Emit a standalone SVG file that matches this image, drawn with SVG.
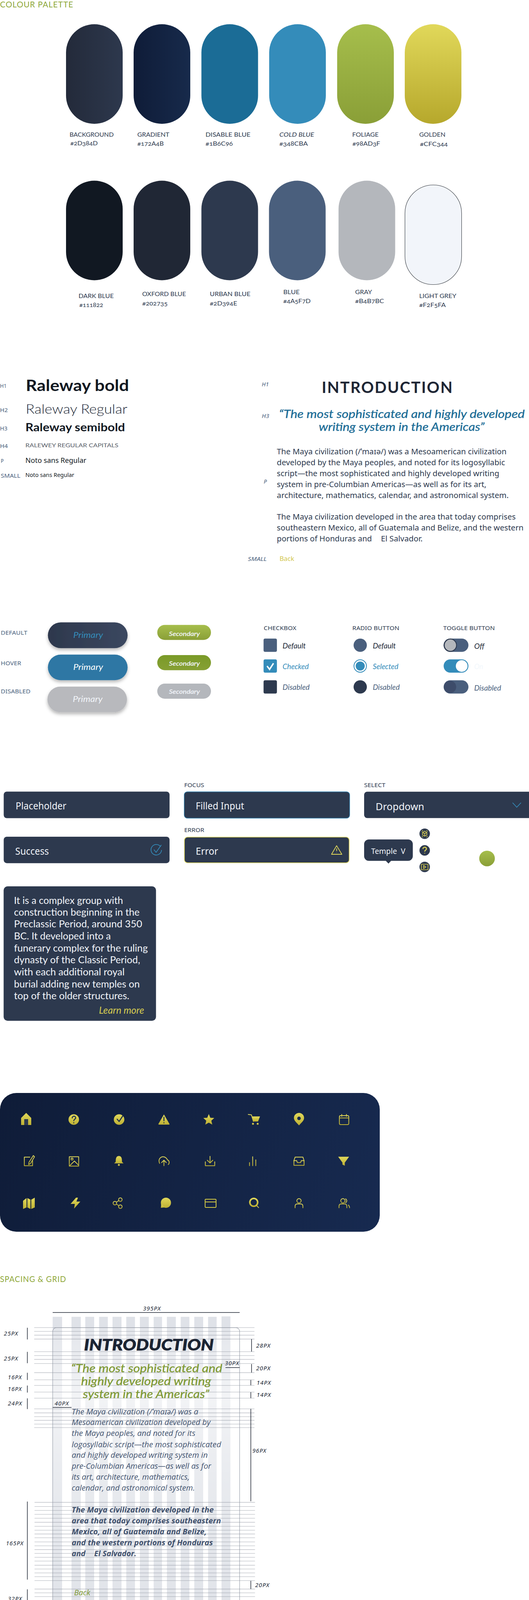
<svg xmlns="http://www.w3.org/2000/svg" width="1354" height="4146" viewBox="0 0 1354 4146">
<style>
text{font-family:"Lato","Liberation Sans",sans-serif}
.noto,.noto text{font-family:"Noto Sans","Open Sans",sans-serif}
.os,.os text{font-family:"Open Sans","Noto Sans",sans-serif}
.head{font-size:20.5px;font-weight:400;fill:#8fa83a;letter-spacing:1px}
.lab{font-size:15px;fill:#2d394e;font-variant-numeric:oldstyle-nums}
.tag{font-size:14px;fill:#4a5f7d;font-family:"Noto Sans",sans-serif}
.tagi{font-size:14px;fill:#4a5f7d;font-style:italic;font-family:"Noto Sans",sans-serif}
.p{font-size:19.5px;fill:#2d394e}
.b1{font-size:21px;font-style:italic}
.b2{font-size:16px;font-style:italic;fill:#f2f5fa;stroke:#f2f5fa;stroke-width:.35}
.opt{font-size:20px;font-style:italic}
.sub{font-size:14.5px;fill:#2d394e;font-family:"Noto Sans",sans-serif}
.inp{fill:#2d394e}
.val{font-size:25px;fill:#f2f5fa}
.card{font-size:25px;fill:#f2f5fa}
.ig{fill:url(#gi)}
.is{fill:none;stroke:url(#gi);stroke-width:2;stroke-linecap:round;stroke-linejoin:round}
.dk{fill:#172a4b}
.dks{fill:none;stroke:#172a4b;stroke-width:2.5;stroke-linecap:round;stroke-linejoin:round}
.dim{font-size:15px;fill:#202735;font-style:italic;font-family:"Noto Sans",sans-serif;letter-spacing:1px}
.dl{fill:none;stroke:#202735;stroke-width:1.5}
.gp{font-size:20px;font-style:italic;fill:#435470}
.gpb{font-size:20px;font-style:italic;font-weight:700;fill:#3f506c}
.gq{font-size:28px;font-style:italic;fill:#7f9a35;stroke:#7f9a35;stroke-width:.4}
.yic{fill:none;stroke:#d6cc50;stroke-width:1.6;stroke-linejoin:round;stroke-linecap:round}
</style>
<defs>
<linearGradient id="g1"><stop offset="0" stop-color="#232a3a"/><stop offset="1" stop-color="#2d384d"/></linearGradient>
<linearGradient id="g2"><stop offset="0" stop-color="#0f1c38"/><stop offset="1" stop-color="#172a4b"/></linearGradient>
<linearGradient id="g5" x2="0" y2="1"><stop offset="0" stop-color="#a6be4c"/><stop offset="1" stop-color="#8a9f37"/></linearGradient>
<linearGradient id="g6" x2="0" y2="1"><stop offset="0" stop-color="#e1d85a"/><stop offset="1" stop-color="#b6a82c"/></linearGradient>
<linearGradient id="gb"><stop offset="0" stop-color="#2d384d"/><stop offset="1" stop-color="#3b475f"/></linearGradient>
<linearGradient id="gh" x2="0" y2="1"><stop offset="0" stop-color="#7a9a28"/><stop offset="1" stop-color="#86a034"/></linearGradient>
<linearGradient id="gi" x2="0" y2="1"><stop offset="0" stop-color="#e1d85a"/><stop offset="1" stop-color="#bdb034"/></linearGradient>
<linearGradient id="gp" gradientUnits="userSpaceOnUse" x1="0" y1="2798" x2="972" y2="3153"><stop offset="0" stop-color="#0f1c38"/><stop offset="1" stop-color="#172a50"/></linearGradient>
<linearGradient id="gc" x2="0" y2="1"><stop offset="0" stop-color="#fff" stop-opacity=".15"/><stop offset=".25" stop-color="#fff" stop-opacity=".6"/><stop offset=".55" stop-color="#fff" stop-opacity=".3"/><stop offset="1" stop-color="#fff" stop-opacity=".05"/></linearGradient>
<filter id="sh" x="-20%" y="-30%" width="140%" height="170%"><feDropShadow dx="0" dy="5" stdDeviation="4" flood-color="#000" flood-opacity=".28"/></filter>
</defs>
<rect width="1354" height="4146" fill="#fff"/>

<g id="colour-palette">
<text class="head" x="0" y="18.5" textLength="188" lengthAdjust="spacingAndGlyphs">COLOUR PALETTE</text>
<g id="swatch-background"><rect x="169" y="62" width="145" height="255" rx="72.5" fill="url(#g1)"/><text class="lab" x="178" y="350" textLength="113" lengthAdjust="spacingAndGlyphs">BACKGROUND</text><text class="lab" x="180" y="372" textLength="70" lengthAdjust="spacingAndGlyphs">#2D384D</text></g>
<g id="swatch-gradient"><rect x="342" y="62" width="145" height="255" rx="72.5" fill="url(#g2)"/><text class="lab" x="351.5" y="350" textLength="82" lengthAdjust="spacingAndGlyphs">GRADIENT</text><text class="lab" x="351.5" y="373" textLength="67.5" lengthAdjust="spacingAndGlyphs">#172A4B</text></g>
<g id="swatch-disable-blue"><rect x="515.5" y="62" width="145" height="255" rx="72.5" fill="#1b6c96"/><text class="lab" x="526" y="350" textLength="115" lengthAdjust="spacingAndGlyphs">DISABLE BLUE</text><text class="lab" x="526" y="373" textLength="70" lengthAdjust="spacingAndGlyphs">#1B6C96</text></g>
<g id="swatch-cold-blue"><rect x="689" y="62" width="145" height="255" rx="72.5" fill="#348cba"/><text class="lab" font-style="italic" x="715" y="350" textLength="89" lengthAdjust="spacingAndGlyphs">COLD BLUE</text><text class="lab" x="715" y="373" textLength="73" lengthAdjust="spacingAndGlyphs">#348CBA</text></g>
<g id="swatch-foliage"><rect x="863" y="62" width="145" height="255" rx="72.5" fill="url(#g5)"/><text class="lab" x="901.5" y="350" textLength="67.5" lengthAdjust="spacingAndGlyphs">FOLIAGE</text><text class="lab" x="902" y="373" textLength="71" lengthAdjust="spacingAndGlyphs">#98AD3F</text></g>
<g id="swatch-golden"><rect x="1036" y="62" width="145" height="255" rx="72.5" fill="url(#g6)"/><text class="lab" x="1073" y="350" textLength="67" lengthAdjust="spacingAndGlyphs">GOLDEN</text><text class="lab" x="1075" y="374" textLength="71" lengthAdjust="spacingAndGlyphs">#CFC344</text></g>
<g id="swatch-dark-blue"><rect x="169" y="462.5" width="145" height="255" rx="72.5" fill="#111822"/><text class="lab" x="201" y="762.5" textLength="90" lengthAdjust="spacingAndGlyphs">DARK BLUE</text><text class="lab" x="203" y="786" textLength="61" lengthAdjust="spacingAndGlyphs">#111822</text></g>
<g id="swatch-oxford-blue"><rect x="342" y="462.5" width="145" height="255" rx="72.5" fill="#202735"/><text class="lab" x="364" y="758" textLength="112" lengthAdjust="spacingAndGlyphs">OXFORD BLUE</text><text class="lab" x="364" y="782" textLength="65" lengthAdjust="spacingAndGlyphs">#202735</text></g>
<g id="swatch-urban-blue"><rect x="515.5" y="462.5" width="145" height="255" rx="72.5" fill="#2d394e"/><text class="lab" x="537" y="758" textLength="104" lengthAdjust="spacingAndGlyphs">URBAN BLUE</text><text class="lab" x="537" y="782" textLength="70" lengthAdjust="spacingAndGlyphs">#2D394E</text></g>
<g id="swatch-blue"><rect x="688.5" y="462.5" width="145" height="255" rx="72.5" fill="#4a5f7d"/><text class="lab" x="725" y="753" textLength="42" lengthAdjust="spacingAndGlyphs">BLUE</text><text class="lab" x="725" y="776" textLength="70" lengthAdjust="spacingAndGlyphs">#4A5F7D</text></g>
<g id="swatch-gray"><rect x="866.5" y="462.5" width="145" height="255" rx="72.5" fill="#b4b7bc"/><text class="lab" x="909" y="753" textLength="43" lengthAdjust="spacingAndGlyphs">GRAY</text><text class="lab" x="909" y="776" textLength="74" lengthAdjust="spacingAndGlyphs">#B4B7BC</text></g>
<g id="swatch-light-grey"><rect x="1036.5" y="473.5" width="145" height="255" rx="72.5" fill="#f2f5fa" stroke="#33383f" stroke-width="1.1"/><text class="lab" x="1073" y="762.5" textLength="95" lengthAdjust="spacingAndGlyphs">LIGHT GREY</text><text class="lab" x="1073" y="786" textLength="68" lengthAdjust="spacingAndGlyphs">#F2F5FA</text></g>
</g>

<g id="type-scale">
<text class="tag" x="0" y="992.7" textLength="17" lengthAdjust="spacingAndGlyphs">H1</text>
<text x="66" y="1001" font-size="40" font-weight="700" fill="#111822" textLength="264" lengthAdjust="spacingAndGlyphs">Raleway bold</text>
<text class="tag" x="0" y="1054.7" textLength="20" lengthAdjust="spacingAndGlyphs">H2</text>
<text x="66" y="1059" font-size="33" font-weight="300" fill="#202735" textLength="260" lengthAdjust="spacingAndGlyphs">Raleway Regular</text>
<text class="tag" x="0" y="1102" textLength="19" lengthAdjust="spacingAndGlyphs">H3</text>
<text x="65" y="1104" font-size="28" font-weight="700" fill="#111822" textLength="255" lengthAdjust="spacingAndGlyphs">Raleway semibold</text>
<text class="tag" x="0" y="1146.7" textLength="20" lengthAdjust="spacingAndGlyphs">H4</text>
<text x="65" y="1144.7" font-size="14" fill="#555b66" textLength="238" lengthAdjust="spacingAndGlyphs">RALEWEY REGULAR CAPITALS</text>
<text class="tag" x="2" y="1185" textLength="7.5" lengthAdjust="spacingAndGlyphs">P</text>
<text class="noto" x="65" y="1184.7" font-size="18" fill="#111822" textLength="156" lengthAdjust="spacingAndGlyphs">Noto sans Regular</text>
<text class="tag" x="2" y="1223.3" textLength="50" lengthAdjust="spacingAndGlyphs">SMALL</text>
<text class="noto" x="65" y="1221" font-size="14.5" fill="#111822" textLength="125" lengthAdjust="spacingAndGlyphs">Noto sans Regular</text>
</g>

<g id="type-sample">
<text class="tagi" x="670" y="989.3" textLength="18" lengthAdjust="spacingAndGlyphs">H1</text>
<text x="823.5" y="1006" font-size="40" font-weight="700" fill="#1e2635" textLength="334.5" lengthAdjust="spacing">INTRODUCTION</text>
<text class="tagi" x="670" y="1069.7" textLength="19" lengthAdjust="spacingAndGlyphs">H3</text>
<g font-size="28" font-style="italic" fill="#1b6c96" stroke="#1b6c96" stroke-width=".4">
<text x="714" y="1070" textLength="629" lengthAdjust="spacingAndGlyphs">“The most sophisticated and highly developed</text>
<text x="816" y="1102.7" textLength="424" lengthAdjust="spacingAndGlyphs">writing system in the Americas”</text>
</g>
<text class="tagi" x="675" y="1237.7" textLength="8" lengthAdjust="spacingAndGlyphs">P</text>
<g class="noto">
<text class="p" x="708.6" y="1163" textLength="588" lengthAdjust="spacingAndGlyphs">The Maya civilization (/ˈmaɪə/) was a Mesoamerican civilization</text>
<text class="p" x="708.6" y="1191" textLength="584.2" lengthAdjust="spacingAndGlyphs">developed by the Maya peoples, and noted for its logosyllabic</text>
<text class="p" x="708.6" y="1219" textLength="569.3" lengthAdjust="spacingAndGlyphs">script—the most sophisticated and highly developed writing</text>
<text class="p" x="708.6" y="1247" textLength="536.4" lengthAdjust="spacingAndGlyphs">system in pre-Columbian Americas—as well as for its art,</text>
<text class="p" x="708.6" y="1274.7" textLength="593.4" lengthAdjust="spacingAndGlyphs">architecture, mathematics, calendar, and astronomical system.</text>
<text class="p" x="708.6" y="1330.3" textLength="611.4" lengthAdjust="spacingAndGlyphs">The Maya civilization developed in the area that today comprises</text>
<text class="p" x="708.6" y="1358.3" textLength="631.4" lengthAdjust="spacingAndGlyphs">southeastern Mexico, all of Guatemala and Belize, and the western</text>
<text class="p" x="708.6" y="1386.3" textLength="243.4" lengthAdjust="spacingAndGlyphs">portions of Honduras and</text>
<text class="p" x="975" y="1386.3" textLength="106.7" lengthAdjust="spacingAndGlyphs">El Salvador.</text>
</g>
<text class="tagi" x="634.6" y="1435.7" textLength="48" lengthAdjust="spacingAndGlyphs">SMALL</text>
<text class="noto" x="715.4" y="1435.7" font-size="16" fill="#d2c64e" textLength="37.6" lengthAdjust="spacingAndGlyphs">Back</text>
</g>

<g id="buttons">
<text class="tag" x="2" y="1625" textLength="68" lengthAdjust="spacingAndGlyphs">DEFAULT</text>
<text class="tag" x="2" y="1702.7" textLength="52" lengthAdjust="spacingAndGlyphs">HOVER</text>
<text class="tag" x="2" y="1775.3" textLength="76" lengthAdjust="spacingAndGlyphs">DISABLED</text>
<g id="primary-default"><rect x="122.6" y="1593.3" width="204" height="66" rx="33" fill="url(#gb)" filter="url(#sh)"/><text class="b1" x="187.4" y="1633.3" fill="#348cba" textLength="76.3" lengthAdjust="spacingAndGlyphs">Primary</text></g>
<g id="primary-hover"><rect x="122.6" y="1675.7" width="204" height="65.6" rx="32.8" fill="#2d77a4" filter="url(#sh)"/><text class="b1" x="187.4" y="1715.3" fill="#fff" textLength="76.3" lengthAdjust="spacingAndGlyphs">Primary</text></g>
<g id="primary-disabled"><rect x="121.4" y="1757.7" width="203.6" height="65.6" rx="32.8" fill="#b8b9bd" filter="url(#sh)"/><text class="b1" x="186.2" y="1797.3" fill="#f2f5fa" textLength="76.3" lengthAdjust="spacingAndGlyphs">Primary</text></g>
<g id="secondary-default"><rect x="402.5" y="1599.7" width="137.5" height="38.6" rx="19.3" fill="url(#g5)"/><text class="b2" x="432.6" y="1627.7" textLength="79" lengthAdjust="spacingAndGlyphs">Secondary</text></g>
<g id="secondary-hover"><rect x="402.5" y="1677" width="137.5" height="38.7" rx="19.3" fill="url(#gh)"/><text class="b2" x="432.6" y="1704" textLength="79" lengthAdjust="spacingAndGlyphs">Secondary</text></g>
<g id="secondary-disabled"><rect x="402.5" y="1750" width="137.5" height="38.7" rx="19.3" fill="#b4b7bc"/><text class="b2" x="432.6" y="1775.7" textLength="79" lengthAdjust="spacingAndGlyphs">Secondary</text></g>
</g>

<g id="checkboxes">
<text class="sub" x="675" y="1613" textLength="83.4" lengthAdjust="spacingAndGlyphs">CHECKBOX</text>
<rect x="674.6" y="1634.7" width="34.2" height="34" rx="4" fill="#4a5f7d"/>
<text class="opt" x="723.3" y="1659.7" fill="#202735" textLength="59.2" lengthAdjust="spacingAndGlyphs">Default</text>
<rect x="674.6" y="1688" width="34.2" height="34" rx="4" fill="#348cba"/>
<path d="M683.5 1705 L690 1713.5 L700 1698" fill="none" stroke="#fff" stroke-width="3.6"/>
<text class="opt" x="723.3" y="1713" fill="#348cba" textLength="67" lengthAdjust="spacingAndGlyphs">Checked</text>
<rect x="674.6" y="1741.4" width="34.2" height="34.2" rx="4" fill="#2d394e"/>
<text class="opt" x="723.3" y="1766.3" fill="#4a5f7d" textLength="69.2" lengthAdjust="spacingAndGlyphs">Disabled</text>
</g>

<g id="radios">
<text class="sub" x="901.8" y="1613" textLength="120.2" lengthAdjust="spacingAndGlyphs">RADIO BUTTON</text>
<circle cx="922" cy="1651.7" r="17" fill="#4a5f7d"/>
<text class="opt" x="954.2" y="1659.7" fill="#202735" textLength="58.8" lengthAdjust="spacingAndGlyphs">Default</text>
<circle cx="922" cy="1705" r="16" fill="#fff" stroke="#348cba" stroke-width="2"/>
<circle cx="922" cy="1705" r="11.6" fill="#348cba"/>
<text class="opt" x="954.2" y="1713" fill="#348cba" textLength="65.6" lengthAdjust="spacingAndGlyphs">Selected</text>
<circle cx="922" cy="1758.5" r="17" fill="#2d394e"/>
<text class="opt" x="954.2" y="1766.3" fill="#4a5f7d" textLength="68.8" lengthAdjust="spacingAndGlyphs">Disabled</text>
</g>

<g id="toggles">
<text class="sub" x="1134.5" y="1613" textLength="132" lengthAdjust="spacingAndGlyphs">TOGGLE BUTTON</text>
<rect x="1135.5" y="1634.7" width="63.5" height="34" rx="17" fill="#4a5f7d"/>
<rect x="1135.5" y="1634.7" width="34" height="34" rx="17" fill="#2d394e"/>
<circle cx="1152.8" cy="1651.7" r="14.6" fill="#b4b7bc"/>
<text class="opt" x="1213.8" y="1661" fill="#202735" textLength="26" lengthAdjust="spacingAndGlyphs">Off</text>
<rect x="1135.5" y="1688" width="63.5" height="34" rx="17" fill="#348cba"/>
<circle cx="1181.7" cy="1705" r="15" fill="#fff"/>
<text class="opt" x="1213.8" y="1713" fill="#f2f7fc" textLength="22.7" lengthAdjust="spacingAndGlyphs">On</text>
<rect x="1135.5" y="1741.4" width="63.5" height="34.2" rx="17" fill="#4a5f7d"/>
<circle cx="1151.8" cy="1758.5" r="15.8" fill="#3d4c6a"/>
<text class="opt" x="1213.8" y="1767.7" fill="#4a5f7d" textLength="68.7" lengthAdjust="spacingAndGlyphs">Disabled</text>
</g>

<g id="inputs" class="noto">
<g id="input-placeholder"><rect class="inp" x="9.5" y="2026.5" width="424.5" height="68" rx="8"/><text class="val" x="40" y="2072.3" textLength="130" lengthAdjust="spacingAndGlyphs">Placeholder</text></g>
<g id="input-success"><rect class="inp" x="9.5" y="2142" width="424.5" height="67.7" rx="8"/><text class="val" x="39" y="2187.7" textLength="86" lengthAdjust="spacingAndGlyphs">Success</text>
<path d="M411 2167.5 A13.5 13.5 0 1 0 413.5 2176" fill="none" stroke="#348cba" stroke-width="1.8"/><path d="M394 2175 L399.5 2182 L413 2163" fill="none" stroke="#348cba" stroke-width="1.8"/></g>
<g id="input-focus"><text class="sub" x="471.4" y="2014.7" textLength="51.2" lengthAdjust="spacingAndGlyphs">FOCUS</text><rect class="inp" x="471.5" y="2027" width="423.5" height="67.5" rx="8" stroke="#2f7fac" stroke-width="1.4"/><text class="val" x="501" y="2072.3" textLength="124" lengthAdjust="spacingAndGlyphs">Filled Input</text></g>
<g id="input-error"><text class="sub" x="471.4" y="2130" textLength="51.2" lengthAdjust="spacingAndGlyphs">ERROR</text><rect class="inp" x="472" y="2143" width="421.7" height="65.7" rx="8" stroke="#e1d85a" stroke-width="1.6"/><text class="val" x="501" y="2187.7" textLength="57.5" lengthAdjust="spacingAndGlyphs">Error</text>
<path d="M861.6 2165 L875 2187 L848.5 2187 Z M861.6 2172 L861.6 2179 M861.6 2182.5 L861.6 2183" fill="none" stroke="#e1d85a" stroke-width="1.8" stroke-linejoin="round"/></g>
<g id="input-select"><text class="sub" x="932" y="2014.7" textLength="54.5" lengthAdjust="spacingAndGlyphs">SELECT</text><rect class="inp" x="932" y="2026.7" width="430" height="67.6" rx="8"/><text class="val" x="961.6" y="2073.7" textLength="124.2" lengthAdjust="spacingAndGlyphs">Dropdown</text><path d="M1312 2055 L1322.7 2066.5 L1333.5 2055" fill="none" stroke="#348cba" stroke-width="1.8"/></g>
<g id="tooltip"><path d="M944 2149 H1044.6 a12 12 0 0 1 12 12 V2191.7 a12 12 0 0 1 -12 12 H1001 L994.3 2210.7 L987.6 2203.7 H944 a12 12 0 0 1 -12 -12 V2161 a12 12 0 0 1 12 -12 Z" fill="#2d394e"/><text x="950" y="2185.7" font-size="19.5" fill="#f2f5fa" xml:space="preserve" textLength="87.7" lengthAdjust="spacingAndGlyphs">Temple  V</text></g>
</g>
<g id="round-icons">
<g id="icon-cube"><circle cx="1087" cy="2134.3" r="13.4" fill="#2d394e"/><path class="yic" d="M1087 2128 l5.5 3 v6.5 l-5.5 3 l-5.5 -3 v-6.5 Z M1081.5 2131 l5.5 3 l5.5 -3 M1087 2134 v6.5 M1080 2128 l2 -2 M1094 2128 l-2 -2 M1080 2141 l2 2 M1094 2141 l-2 2"/></g>
<g id="icon-help"><circle cx="1087" cy="2177" r="13.4" fill="#2d394e"/><path d="M1082.5 2173.5 c0 -6 9 -6 9 -.5 c0 3.5 -4.5 3.5 -4.5 7 M1087 2183.5 v1.5" fill="none" stroke="#d6cc50" stroke-width="2.8"/></g>
<g id="icon-video"><circle cx="1087" cy="2219.3" r="13.4" fill="#2d394e"/><rect class="yic" x="1078.5" y="2212.5" width="17" height="14"/><path class="yic" d="M1084 2215.5 l6 4 l-6 4 Z"/></g>
</g>
<circle id="cursor-dot" cx="1246.6" cy="2197.7" r="20" fill="url(#g5)"/>

<g id="info-card">
<rect x="9.3" y="2269" width="390" height="344.3" rx="10" fill="#2d394e"/>
<text class="card" x="35.7" y="2314" textLength="279.3" lengthAdjust="spacingAndGlyphs">It is a complex group with</text>
<text class="card" x="35.7" y="2344.3" textLength="321.6" lengthAdjust="spacingAndGlyphs">construction beginning in the</text>
<text class="card" x="35.7" y="2374.3" textLength="328.3" lengthAdjust="spacingAndGlyphs">Preclassic Period, around 350</text>
<text class="card" x="35.7" y="2404.7" textLength="248" lengthAdjust="spacingAndGlyphs">BC. It developed into a</text>
<text class="card" x="35.7" y="2436" textLength="342.6" lengthAdjust="spacingAndGlyphs">funerary complex for the ruling</text>
<text class="card" x="35.7" y="2466.3" textLength="323" lengthAdjust="spacingAndGlyphs">dynasty of the Classic Period,</text>
<text class="card" x="35.7" y="2497" textLength="283.3" lengthAdjust="spacingAndGlyphs">with each additional royal</text>
<text class="card" x="35.7" y="2527.7" textLength="322" lengthAdjust="spacingAndGlyphs">burial adding new temples on</text>
<text class="card" x="35.7" y="2558" textLength="295.3" lengthAdjust="spacingAndGlyphs">top of the older structures.</text>
<text x="253.3" y="2595" font-size="25" font-style="italic" fill="#d6cc50" textLength="115.7" lengthAdjust="spacingAndGlyphs">Learn more</text>
</g>

<g id="icon-panel">
<rect x="0" y="2798" width="972" height="355.3" rx="42" fill="url(#gp)"/>
<g id="i-home" transform="translate(67 2866)"><path class="ig" d="M0 -17 L13 -4 V14 H-13 V-4 Z"/><rect x="-5" y="-1" width="10" height="15" fill="#2d394e"/></g>
<g id="i-help" transform="translate(188.8 2866)"><circle class="ig" r="13.5"/><path class="dks" d="M-4 -4 C-4 -10 5 -10 5 -4 C5 -1 0 -1 0 3 M0 8 V8.5"/></g>
<g id="i-check" transform="translate(304.8 2866)"><circle class="ig" r="13.5"/><path class="dks" d="M-5 -1 L0 5 L10 -10"/></g>
<g id="i-warn" transform="translate(419.6 2866)"><path class="ig" d="M0 -13 L14 11 Q15 13 12 13 H-12 Q-15 13 -14 11 Z" /><path class="dks" d="M0 -6 V3 M0 8 V8.5"/></g>
<g id="i-star" transform="translate(534.4 2866)"><path class="ig" d="M0 -14 L4 -4.5 L14 -4 L6.5 3 L9 13 L0 8 L-9 13 L-6.5 3 L-14 -4 L-4 -4.5 Z"/></g>
<g id="i-cart" transform="translate(650.5 2866)"><path class="is" d="M-15 -13 L-7 -12 L-2 5"/><path class="ig" d="M-6 -8 H15 L10 5 H-2 Z"/><circle class="ig" cx="-3" cy="11" r="2.5"/><circle class="ig" cx="9" cy="11" r="2.5"/></g>
<g id="i-pin" transform="translate(765.3 2866)"><path class="ig" d="M0 15 C-6 8 -13 3 -13 -4 A13 13 0 0 1 13 -4 C13 3 6 8 0 15 Z"/><circle class="dk" cy="-3" r="4.5"/></g>
<g id="i-calendar" transform="translate(880.7 2866)"><rect class="is" x="-12" y="-10" width="24" height="23" rx="3"/><path class="is" d="M-12 -4 H12 M-6 -13 V-8 M6 -13 V-8"/></g>
<g id="i-edit" transform="translate(73.3 2973.3)"><path class="is" d="M10 -3 V11 H-11 V-11 H3"/><path class="is" d="M12 -15 L15 -12 L5 5 L0 8 L1 2 Z"/></g>
<g id="i-image" transform="translate(189.4 2973.3)"><rect class="is" x="-12" y="-12" width="24" height="24"/><circle class="is" cx="-5" cy="-6" r="2.5"/><path class="is" d="M-11 11 L1 -1 L11 9"/></g>
<g id="i-bell" transform="translate(304.2 2973.3)"><path class="ig" d="M0 -14 C8 -14 8 -5 8 1 L12 5 H-12 L-8 1 C-8 -5 -8 -14 0 -14 Z"/><circle class="ig" cy="9" r="2.5"/></g>
<g id="i-upload" transform="translate(419.6 2973.3)"><path class="is" d="M-11 5 C-16 -6 -8 -12 -2 -12 C4 -12 8 -7 9 -4 C14 -2 15 4 11 8"/><path class="is" d="M0 11 V-2 M-6 3 L0 -3 L6 3"/></g>
<g id="i-download" transform="translate(537.6 2973.3)"><path class="is" d="M0 -13 V4 M-7 -3 L0 4 L7 -3"/><path class="is" d="M-12 1 V11 H12 V1"/></g>
<g id="i-bars" transform="translate(646.7 2973.3)"><path class="is" d="M-8 3 V11 M0 -12 V11 M8 -4 V11"/></g>
<g id="i-inbox" transform="translate(765.3 2973.3)"><path class="is" d="M-10 -11 H10 L13 -2 V10 H-13 V-2 Z"/><path class="is" d="M-13 -2 H-6 L-4 3 H4 L6 -2 H13"/></g>
<g id="i-funnel" transform="translate(879.5 2973.3)"><path class="ig" d="M-14 -12 H14 L3 3 V11 L-3 8 V3 Z"/></g>
<g id="i-map" transform="translate(74 3080)"><path class="ig" d="M-15 -6 L-6 -13 V11 L-15 15 Z M-4 -13 L4 -9 V15 L-4 11 Z M6 -9 L15 -14 V11 L6 15 Z"/></g>
<g id="i-bolt" transform="translate(192.6 3080)"><path class="ig" d="M2 -14 L-12 2 H-1 L-3 14 L13 -4 H3 L7 -14 Z"/></g>
<g id="i-share" transform="translate(301 3080)"><circle class="is" cx="7" cy="-9" r="4.5"/><circle class="is" cx="-7" cy="0" r="4.5"/><circle class="is" cx="7" cy="9" r="4.5"/><path class="is" d="M3 -6.5 L-3 -2.5 M-3 2.5 L3 6.5"/></g>
<g id="i-chat" transform="translate(424.7 3080)"><circle class="ig" cy="-1" r="13"/><path class="ig" d="M-12 2 L-13 12 L-3 11 Z"/></g>
<g id="i-card" transform="translate(539 3080)"><rect x="-14" y="-10" width="28" height="21" rx="2" fill="none" stroke="#d2c845" stroke-width="2"/><path d="M-14 -3 H14" fill="none" stroke="#d2c845" stroke-width="2"/></g>
<g id="i-search" transform="translate(650.5 3080)"><circle class="is" cx="-1" cy="-2" r="10" style="stroke-width:4"/><path d="M6 6 L12 12" stroke="#d2c845" stroke-width="2"/></g>
<g id="i-user" transform="translate(765.3 3080)"><circle class="is" cy="-6" r="5.5"/><path class="is" d="M-10 12 V8 Q-10 2 -4 2 H4 Q10 2 10 8 V12"/></g>
<g id="i-users" transform="translate(880.7 3080)"><circle class="is" cx="-3" cy="-6" r="5.5"/><path class="is" d="M-13 12 V8 Q-13 2 -7 2 H1 Q7 2 7 8 V12 M4 -11 Q10 -6 4 -1 M11 5 Q14 8 14 12"/></g>
</g>

<g id="spacing-grid">
<text class="head" x="0" y="3282" textLength="169.6" lengthAdjust="spacingAndGlyphs">SPACING &amp; GRID</text>
<g id="grid-columns" fill="#dfe2e8">
<rect x="134.8" y="3371" width="24.1" height="775"/><rect x="183" y="3371" width="23.7" height="775"/><rect x="218.3" y="3371" width="22.7" height="775"/><rect x="253.6" y="3371" width="22.3" height="775"/><rect x="288" y="3371" width="23" height="775"/><rect x="323.2" y="3371" width="22.3" height="775"/><rect x="358" y="3371" width="22.8" height="775"/><rect x="393.3" y="3371" width="21.4" height="775"/><rect x="427.2" y="3371" width="22.8" height="775"/><rect x="462.5" y="3371" width="22.3" height="775"/><rect x="497.3" y="3371" width="22.7" height="775"/><rect x="532.6" y="3371" width="21.9" height="775"/><rect x="567" y="3370" width="22.7" height="776"/>
</g>
<rect id="grid-card" x="134.8" y="3398.7" width="478.6" height="708.6" rx="10" fill="url(#gc)" stroke="#9ca2ad" stroke-width="1.2"/>
<path id="grid-rows" fill="none" stroke="#8a909b" stroke-opacity=".55" stroke-width="1.3" d="M87.5 3398.7H651.3M87.5 3408.3H651.3M87.5 3418H651.3M87.5 3428H651.3M87.5 3460.3H651.3M87.5 3470.3H651.3M87.5 3480H651.3M87.5 3490.7H651.3M87.5 3514H651.3M87.5 3532.3H651.3M87.5 3546.7H651.3M87.5 3563.7H651.3M87.5 3579.3H651.3M87.5 3606.7H651.3M87.5 3617H651.3M87.5 3626.7H651.3M87.5 3636H651.3M87.5 3645.7H651.3M87.5 3654.7H651.3M88.4 3846H652.7M88.4 3856.7H652.7M88.4 3866.7H652.7M88.4 3876.7H652.7M88.4 3886.7H652.7M88.4 3897H652.7M88.4 3907.3H652.7M88.4 3917.3H652.7M88.4 3927H652.7M88.4 3936.7H652.7M88.4 3947.3H652.7M88.4 3957.3H652.7M88.4 3967H652.7M88.4 3976.7H652.7M88.4 3986.7H652.7M88.4 3996.3H652.7M88.4 4007H652.7M88.4 4016.7H652.7M88.4 4026.7H652.7M88.4 4036.3H652.7M88.4 4046.3H652.7M88.4 4068H652.7M88.4 4077.7H652.7M88.4 4087.3H652.7M88.4 4097.3H652.7M88.4 4107.3H652.7"/>
<g id="grid-sample">
<text x="215" y="3457.3" font-size="40" font-style="italic" font-weight="900" fill="#1b2433" stroke="#1b2433" stroke-width=".8" textLength="332" lengthAdjust="spacingAndGlyphs">INTRODUCTION</text>
<text class="gq" x="182" y="3513.3" textLength="387" lengthAdjust="spacingAndGlyphs">“The most sophisticated and</text>
<text class="gq" x="207.6" y="3546" textLength="333" lengthAdjust="spacingAndGlyphs">highly developed writing</text>
<text class="gq" x="212" y="3578.7" textLength="323.7" lengthAdjust="spacingAndGlyphs">system in the Americas”</text>
<g class="os">
<text class="gp" x="183.5" y="3620.7" textLength="324.1" lengthAdjust="spacingAndGlyphs">The Maya civilization (/ˈmaɪə/) was a</text>
<text class="gp" x="183.5" y="3648.3" textLength="355.3" lengthAdjust="spacingAndGlyphs">Mesoamerican civilization developed by</text>
<text class="gp" x="183.5" y="3676.3" textLength="316.5" lengthAdjust="spacingAndGlyphs">the Maya peoples, and noted for its</text>
<text class="gp" x="183.5" y="3704.7" textLength="382.5" lengthAdjust="spacingAndGlyphs">logosyllabic script—the most sophisticated</text>
<text class="gp" x="183.5" y="3732.3" textLength="348.2" lengthAdjust="spacingAndGlyphs">and highly developed writing system in</text>
<text class="gp" x="183.5" y="3760.3" textLength="357.1" lengthAdjust="spacingAndGlyphs">pre-Columbian Americas—as well as for</text>
<text class="gp" x="183.5" y="3788.3" textLength="301.8" lengthAdjust="spacingAndGlyphs">its art, architecture, mathematics,</text>
<text class="gp" x="183.5" y="3816" textLength="315.2" lengthAdjust="spacingAndGlyphs">calendar, and astronomical system.</text>
<text class="gpb" x="183.5" y="3871.7" textLength="363.4" lengthAdjust="spacingAndGlyphs">The Maya civilization developed in the</text>
<text class="gpb" x="183.5" y="3899.7" textLength="382.1" lengthAdjust="spacingAndGlyphs">area that today comprises southeastern</text>
<text class="gpb" x="183.5" y="3927.7" textLength="345.5" lengthAdjust="spacingAndGlyphs">Mexico, all of Guatemala and Belize,</text>
<text class="gpb" x="183.5" y="3955.7" textLength="361.5" lengthAdjust="spacingAndGlyphs">and the western portions of Honduras</text>
<text class="gpb" x="183.5" y="3983.7" textLength="35.3" lengthAdjust="spacingAndGlyphs">and</text>
<text class="gpb" x="241" y="3983.7" textLength="108" lengthAdjust="spacingAndGlyphs">El Salvador.</text>
<text x="189.7" y="4084.3" font-size="20" font-style="italic" fill="#7f9a35" textLength="41.3" lengthAdjust="spacingAndGlyphs">Back</text>
</g>
</g>
<g id="dimensions">
<path class="dl" d="M134.8 3360H613.4M70 3399V3429M70 3460.7V3489.7M70 3514.3V3532.7M70 3547V3565M70 3579.7V3607.3M134.8 3603H183M643.8 3428V3460M577.2 3501H613.4M643.8 3492V3513.7M642 3532.7V3546.3M642 3564V3579.3M642 3606.7V3843.3M70 3844V4043.7M642 4047V4067.7M70 4068.7V4107.3"/>
<text class="dim" x="366" y="3355" textLength="46" lengthAdjust="spacingAndGlyphs">395PX</text>
<text class="dim" x="9.8" y="3419.3" textLength="37" lengthAdjust="spacingAndGlyphs">25PX</text>
<text class="dim" x="9.8" y="3482.7" textLength="37" lengthAdjust="spacingAndGlyphs">25PX</text>
<text class="dim" x="20" y="3531.3" textLength="36.3" lengthAdjust="spacingAndGlyphs">16PX</text>
<text class="dim" x="20" y="3560.7" textLength="36.3" lengthAdjust="spacingAndGlyphs">16PX</text>
<text class="dim" x="20" y="3598" textLength="37" lengthAdjust="spacingAndGlyphs">24PX</text>
<text class="dim" x="139.7" y="3598" textLength="37" lengthAdjust="spacingAndGlyphs">40PX</text>
<text class="dim" x="655.4" y="3450" textLength="37.5" lengthAdjust="spacingAndGlyphs">28PX</text>
<text class="dim" x="575.4" y="3495" textLength="37" lengthAdjust="spacingAndGlyphs">30PX</text>
<text class="dim" x="655.4" y="3508" textLength="37.5" lengthAdjust="spacingAndGlyphs">20PX</text>
<text class="dim" x="656.7" y="3544.7" textLength="37.3" lengthAdjust="spacingAndGlyphs">14PX</text>
<text class="dim" x="656.7" y="3576" textLength="37.3" lengthAdjust="spacingAndGlyphs">14PX</text>
<text class="dim" x="646" y="3719.3" textLength="36" lengthAdjust="spacingAndGlyphs">96PX</text>
<text class="dim" x="15.2" y="3955.7" textLength="45.5" lengthAdjust="spacingAndGlyphs">165PX</text>
<text class="dim" x="653" y="4063.3" textLength="37" lengthAdjust="spacingAndGlyphs">20PX</text>
<text class="dim" x="20" y="4097.7" textLength="37" lengthAdjust="spacingAndGlyphs">32PX</text>
</g>
</g>
</svg>
